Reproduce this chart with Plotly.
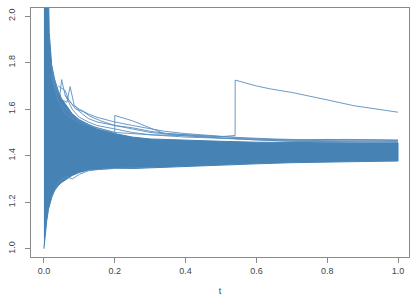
import plotly.graph_objects as go

# ---- data ----
# envelope of the dense band of paths
band_t = [0.0, 0.004, 0.008, 0.013, 0.015, 0.018, 0.022, 0.03, 0.04, 0.05, 0.065, 0.08,
          0.1, 0.125, 0.15, 0.2, 0.25, 0.3, 0.4, 0.5, 0.6, 0.7, 0.8, 0.9, 1.0]
band_upper = [2.10, 2.10, 2.10, 2.10, 1.93, 1.86, 1.79, 1.73, 1.68, 1.645, 1.61, 1.58,
              1.555, 1.535, 1.515, 1.495, 1.48, 1.472, 1.466, 1.462, 1.458, 1.456, 1.455, 1.455, 1.455]
band_lower = [1.00, 1.06, 1.12, 1.17, 1.185, 1.20, 1.22, 1.25, 1.27, 1.285, 1.30, 1.315,
              1.328, 1.338, 1.343, 1.347, 1.345, 1.347, 1.355, 1.36, 1.365, 1.37, 1.373, 1.375, 1.377]

# individual paths standing out of the band
path_a_t = [0.02, 0.03, 0.045, 0.05, 0.06, 0.08, 0.1, 0.125, 0.15, 0.2, 0.25, 0.3, 0.34, 0.4, 0.5, 0.6, 0.7, 0.8, 0.9, 1.0]
path_a_v = [1.80, 1.70, 1.66, 1.727, 1.66, 1.62, 1.60, 1.58, 1.565, 1.545, 1.53, 1.515, 1.505, 1.495, 1.482, 1.472, 1.466, 1.465, 1.465, 1.463]

path_b_t = [0.03, 0.05, 0.065, 0.074, 0.085, 0.1, 0.125, 0.15, 0.2, 0.25, 0.3, 0.4, 0.5, 0.6, 0.7, 0.8, 0.9, 1.0]
path_b_v = [1.72, 1.64, 1.63, 1.697, 1.62, 1.59, 1.56, 1.545, 1.53, 1.515, 1.50, 1.485, 1.475, 1.468, 1.462, 1.46, 1.46, 1.46]

path_c_t = [0.05, 0.08, 0.1, 0.15, 0.2, 0.2001, 0.25, 0.3, 0.34, 0.4, 0.47, 0.5, 0.6, 0.7, 0.8, 0.9, 1.0]
path_c_v = [1.62, 1.57, 1.55, 1.52, 1.50, 1.573, 1.55, 1.52, 1.495, 1.49, 1.48, 1.475, 1.468, 1.462, 1.46, 1.458, 1.458]

path_d_t = [0.02, 0.04, 0.06, 0.08, 0.1, 0.15, 0.2, 0.3, 0.4, 0.5, 0.54, 0.5401, 0.6, 0.64, 0.7, 0.76, 0.8, 0.875, 0.9, 1.0]
path_d_v = [1.75, 1.64, 1.58, 1.56, 1.54, 1.52, 1.50, 1.49, 1.485, 1.482, 1.487, 1.725, 1.70, 1.687, 1.672, 1.651, 1.64, 1.615, 1.61, 1.587]

path_e_t = [0.06, 0.08, 0.1, 0.125, 0.15, 0.2, 0.25, 0.3, 0.4, 0.5, 0.6, 0.7, 0.8, 0.9, 1.0]
path_e_v = [1.66, 1.60, 1.565, 1.545, 1.53, 1.515, 1.50, 1.49, 1.48, 1.475, 1.47, 1.468, 1.47, 1.468, 1.465]

path_f_t = [0.02, 0.03, 0.04, 0.05, 0.065, 0.08, 0.1, 0.125, 0.15, 0.2, 0.3]
path_f_v = [1.22, 1.25, 1.28, 1.30, 1.31, 1.30, 1.32, 1.335, 1.34, 1.345, 1.35]

path_g_t = [0.04, 0.06, 0.07, 0.09, 0.11, 0.13, 0.16, 0.2, 0.25, 0.3, 0.35, 0.45, 0.55, 0.65, 0.75, 0.85, 1.0]
path_g_v = [1.70, 1.68, 1.64, 1.60, 1.59, 1.57, 1.55, 1.53, 1.52, 1.505, 1.495, 1.485, 1.478, 1.472, 1.468, 1.47, 1.468]

paths = [(path_a_t, path_a_v), (path_b_t, path_b_v), (path_c_t, path_c_v),
         (path_d_t, path_d_v), (path_e_t, path_e_v), (path_f_t, path_f_v),
         (path_g_t, path_g_v)]

x_ticks = [0.0, 0.2, 0.4, 0.6, 0.8, 1.0]
x_tick_labels = ["0.0", "0.2", "0.4", "0.6", "0.8", "1.0"]
y_ticks = [1.0, 1.2, 1.4, 1.6, 1.8, 2.0]
y_tick_labels = ["1.0", "1.2", "1.4", "1.6", "1.8", "2.0"]

color = "#4682B4"

fig = go.Figure()
fig.add_trace(go.Scatter(
    x=band_t + band_t[::-1], y=band_upper + band_lower[::-1],
    mode="lines", fill="toself", fillcolor=color,
    line=dict(color=color, width=1), hoverinfo="skip", showlegend=False))
for pt, pv in paths:
    fig.add_trace(go.Scatter(x=pt, y=pv, mode="lines",
                             line=dict(color="#5a8fc0", width=0.9), showlegend=False))

axis_common = dict(showgrid=False, zeroline=False, showline=True, mirror=True,
                   linecolor="#8a8a8a", linewidth=1, ticks="outside", ticklen=5,
                   tickcolor="#8a8a8a", tickfont=dict(family="Liberation Sans", size=9, color="#444"))
fig.update_layout(
    width=417, height=301,
    margin=dict(l=29, r=8, t=7, b=44),
    paper_bgcolor="white", plot_bgcolor="white",
    xaxis=dict(range=[-0.0365, 1.031], tickvals=x_ticks, ticktext=x_tick_labels,
               title=dict(text="t", font=dict(family="Liberation Sans", size=9, color="#444"), standoff=12),
               **axis_common),
    yaxis=dict(range=[0.9645, 2.035], tickvals=y_ticks, ticktext=y_tick_labels, tickangle=-90,
               ticklabelstandoff=6, **axis_common),
)
fig.write_html("out.html")
